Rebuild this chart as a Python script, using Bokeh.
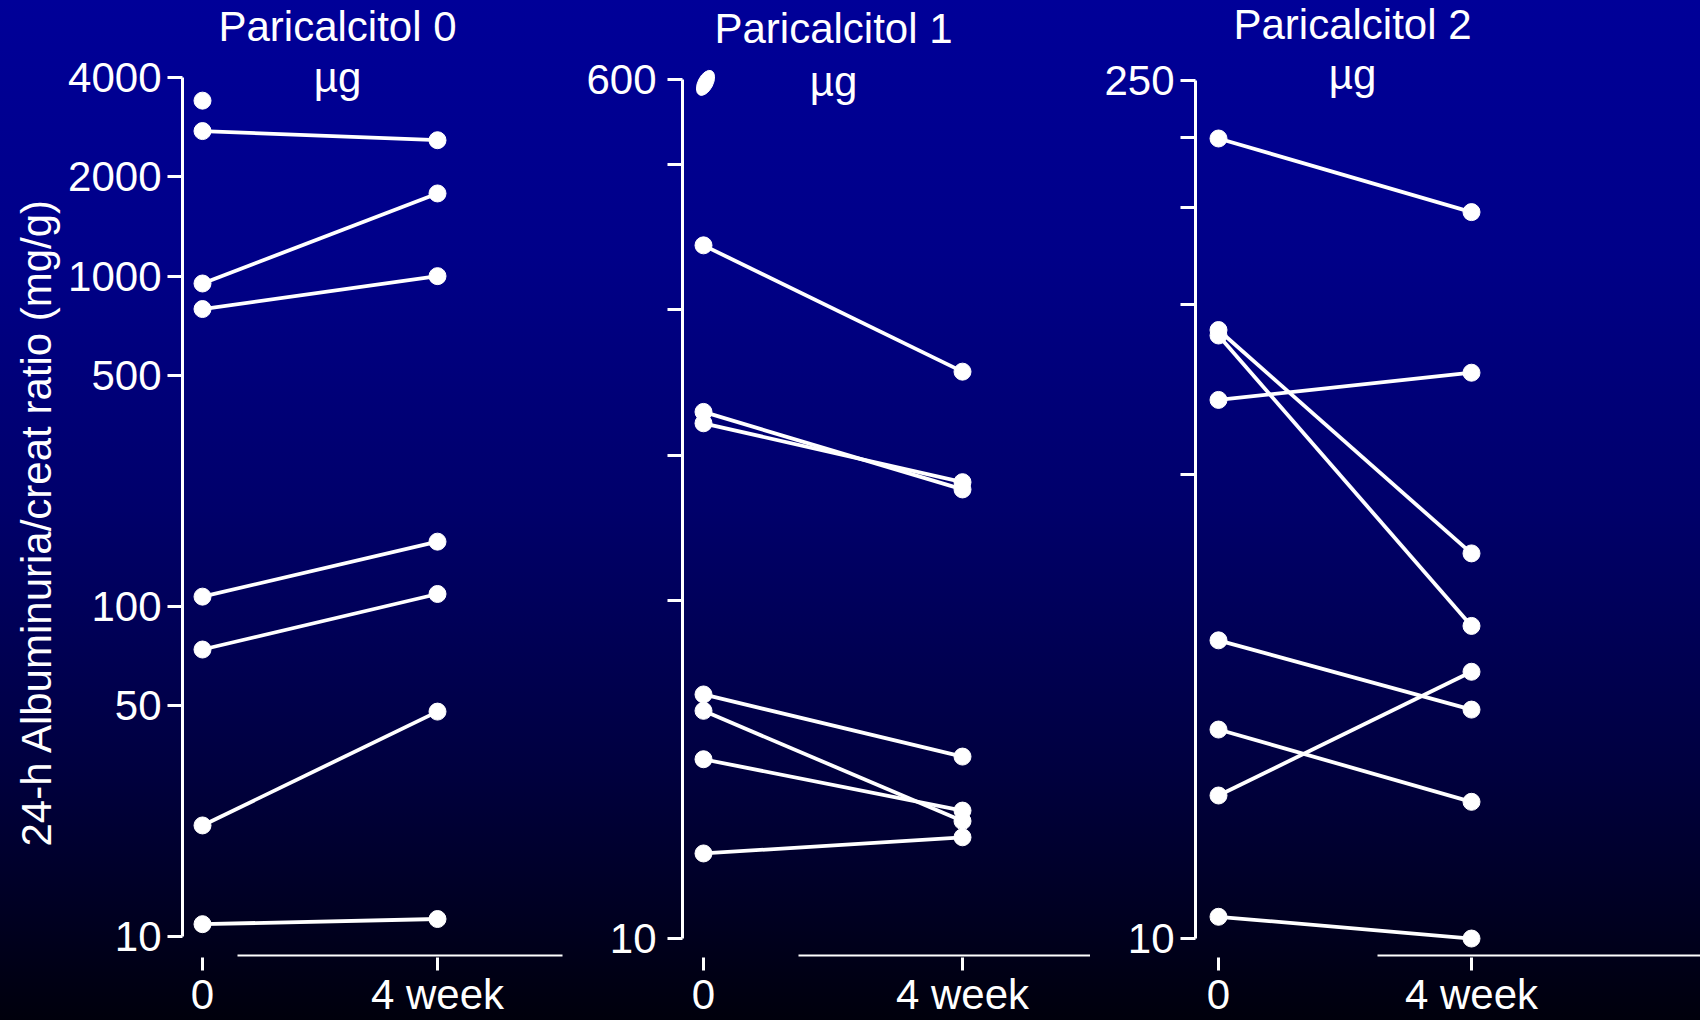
import math
from bokeh.plotting import figure
from bokeh.models import Range1d, FixedTicker, PrintfTickFormatter, Label, Title
from bokeh.layouts import row
from bokeh.embed import file_html
from bokeh.resources import INLINE

nan = float("nan")

# ---------------- data ----------------
WEEKS = [0, 4]
WEEK_LABELS = ["0", "4 week"]
TITLES = ["Paricalcitol 0", "Paricalcitol 1", "Paricalcitol 2"]
UNIT = "µg"
Y_LABEL = "24-h Albuminuria/creat ratio (mg/g)"

PARI0_WEEK0 = [3400, 2750, 950, 795, 107, 74, 21.7, 10.9]
PARI0_WEEK4 = [nan, 2580, 1780, 1000, 157, 109, 48, 11.3]
PARI1_WEEK0 = [590, 272, 123, 116.5, 32, 29.6, 23.5, 15.0]
PARI1_WEEK4 = [nan, 149, 85, 88, 23.8, 17.5, 18.4, 16.2]
PARI2_WEEK0 = [201, 98, 96, 75.4, 30.6, 21.9, 17.1, 10.85]
PARI2_WEEK4 = [152.5, 42.4, 32.3, 83.5, 23.6, 16.7, 27.2, 10.0]

PARI0_TICKS = [10, 50, 100, 500, 1000, 2000, 4000]
PARI0_TICK_LABELS = ["10", "50", "100", "500", "1000", "2000", "4000"]
PARI1_TICKS = [10, 50, 100, 200, 400, 600]
PARI1_TICK_LABELS = ["10", "", "", "", "", "600"]
PARI2_TICKS = [10, 57, 108, 155, 202, 250]
PARI2_TICK_LABELS = ["10", "", "", "", "", "250"]

# ---------------- layout / style ----------------
W, H = 1700, 1020
FRAME_BOTTOM = 959
XLINE_Y = 957
FONT = "Liberation Sans"
FS = "42px"
WHITE = "#ffffff"
GRADIENT = "linear-gradient(to bottom, #000098 0%, #000088 25%, #00006a 50%, #000040 75%, #00000c 100%)"

GEOM = [
    dict(left=0, width=570, axis=182, x0=202, x4=437, ytop=77, ybot=938,
         tx=337, tb=26, ub=77, xl=(237, 562), standoff=6),
    dict(left=570, width=520, axis=682, x0=703, x4=962, ytop=79, ybot=940,
         tx=833, tb=28, ub=81, xl=(798, 1124), standoff=11),
    dict(left=1090, width=610, axis=1195, x0=1218, x4=1471, ytop=80, ybot=940,
         tx=1352, tb=24, ub=74, xl=(1377, 1720), standoff=6),
]
YLABEL_OFFSET = 111


def make_panel(idx, week0, week4, ticks, tick_labels, g, ylabel=None):
    top_val, bot_val = max(ticks), min(ticks)
    ppd = (g["ybot"] - g["ytop"]) / (math.log10(top_val) - math.log10(bot_val))

    def yv(py):
        return top_val * 10 ** ((g["ytop"] - py) / ppd)

    ppu = (g["x4"] - g["x0"]) / (WEEKS[1] - WEEKS[0])

    def xv(px):
        return WEEKS[0] + (px - g["x0"]) / ppu

    p = figure(width=g["width"], height=H,
               x_range=Range1d(xv(g["axis"]), xv(g["left"] + g["width"])),
               y_range=Range1d(yv(FRAME_BOTTOM), yv(0)),
               y_axis_type="log", output_backend="svg", toolbar_location=None,
               min_border_left=g["axis"] - g["left"], min_border_right=0,
               min_border_top=0, min_border_bottom=0)
    p.background_fill_color = None
    p.border_fill_color = None
    p.outline_line_color = None
    p.grid.visible = False

    # y axis
    ya = p.yaxis[0]
    ya.ticker = FixedTicker(ticks=ticks)
    ya.formatter = PrintfTickFormatter(format="%d")
    ya.major_label_overrides = {t: lab for t, lab in zip(ticks, tick_labels)}
    ya.bounds = (bot_val, top_val)
    ya.axis_line_color = WHITE
    ya.axis_line_width = 3
    ya.major_tick_line_color = WHITE
    ya.major_tick_line_width = 3
    ya.major_tick_out = 15
    ya.major_tick_in = 0
    ya.minor_tick_line_color = None
    ya.major_label_standoff = g["standoff"]
    ya.major_label_text_color = WHITE
    ya.major_label_text_font = FONT
    ya.major_label_text_font_size = FS

    # x axis
    xa = p.xaxis[0]
    xa.ticker = FixedTicker(ticks=WEEKS)
    xa.major_label_overrides = {w: lab for w, lab in zip(WEEKS, WEEK_LABELS)}
    xa.axis_line_color = None
    xa.major_tick_line_color = WHITE
    xa.major_tick_line_width = 3
    xa.major_tick_out = 13
    xa.major_tick_in = 0
    xa.minor_tick_line_color = None
    xa.major_label_standoff = 0
    xa.major_label_text_color = WHITE
    xa.major_label_text_font = FONT
    xa.major_label_text_font_size = FS

    # detached x-axis line (as in the original figure)
    yl = yv(XLINE_Y)
    p.segment(x0=[xv(g["xl"][0])], y0=[yl], x1=[xv(g["xl"][1])], y1=[yl],
              line_color=WHITE, line_width=2)

    # paired lines
    xs, ys = [], []
    for a, b in zip(week0, week4):
        if not (math.isnan(a) or math.isnan(b)):
            xs.append(list(WEEKS))
            ys.append([a, b])
    p.multi_line(xs=xs, ys=ys, line_color=WHITE, line_width=3.8)

    # points
    px, py, lone_x, lone_y = [], [], [], []
    for a, b in zip(week0, week4):
        if math.isnan(b):
            lone_x.append(WEEKS[0]); lone_y.append(a)
            continue
        px += list(WEEKS); py += [a, b]
    p.scatter(px, py, size=17, marker="circle", fill_color=WHITE, line_color=WHITE)
    if lone_x:
        if idx == 1:
            p.ellipse(x=[v + 2 / ppu for v in lone_x], y=lone_y, width=27, height=15,
                      width_units="screen", height_units="screen", angle=1.1,
                      fill_color=WHITE, line_color=WHITE)
        else:
            p.scatter(lone_x, lone_y, size=17, marker="circle",
                      fill_color=WHITE, line_color=WHITE)

    # titles
    for text, base in ((TITLES[idx], g["tb"]), (UNIT, g["ub"])):
        p.add_layout(Label(x=xv(g["tx"]), y=yv(base), text=text, text_align="center",
                           text_baseline="alphabetic", text_color=WHITE,
                           text_font=FONT, text_font_size=FS))
    if ylabel:
        p.add_layout(Title(text=ylabel, align="left", offset=YLABEL_OFFSET,
                           vertical_align="middle", standoff=10,
                           text_color=WHITE, text_font=FONT, text_font_size=FS,
                           text_font_style="normal"), "left")
    return p


p1 = make_panel(0, PARI0_WEEK0, PARI0_WEEK4, PARI0_TICKS, PARI0_TICK_LABELS, GEOM[0], Y_LABEL)
p2 = make_panel(1, PARI1_WEEK0, PARI1_WEEK4, PARI1_TICKS, PARI1_TICK_LABELS, GEOM[1])
p3 = make_panel(2, PARI2_WEEK0, PARI2_WEEK4, PARI2_TICKS, PARI2_TICK_LABELS, GEOM[2])

layout = row(p1, p2, p3, width=W, height=H, styles={"background": GRADIENT})

open("out.html", "w").write(file_html(layout, INLINE))
